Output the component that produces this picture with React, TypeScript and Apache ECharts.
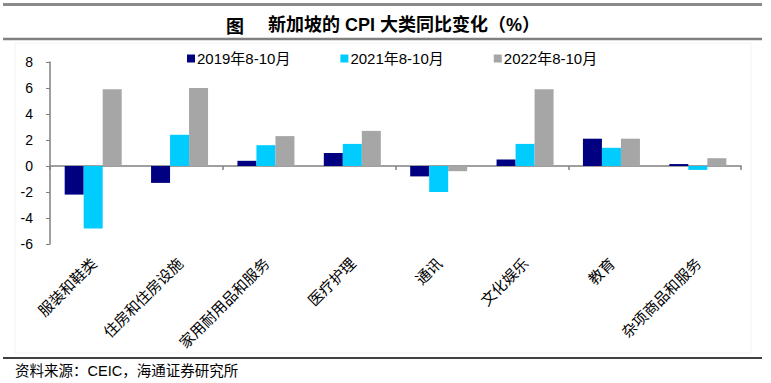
import React, { useEffect, useRef } from "react";
import * as echarts from "echarts";

const categories = [
  "服装和鞋类",
  "住房和住房设施",
  "家用耐用品和服务",
  "医疗护理",
  "通讯",
  "文化娱乐",
  "教育",
  "杂项商品和服务",
];
const seriesNames = ["2019年8-10月", "2021年8-10月", "2022年8-10月"];
const values2019 = [-2.2, -1.3, 0.4, 1.0, -0.8, 0.5, 2.1, 0.15];
const values2021 = [-4.8, 2.4, 1.6, 1.7, -2.0, 1.7, 1.4, -0.3];
const values2022 = [5.9, 6.0, 2.3, 2.7, -0.4, 5.9, 2.1, 0.6];
const colors = ["#000080", "#00CCFF", "#A6A6A6"];
const titleText = "新加坡的 CPI 大类同比变化（%）";
const sourceText = "资料来源：CEIC，海通证券研究所";

const FONT = "Liberation Sans, Arial, 'Noto Sans CJK SC', sans-serif";

export default function App() {
  const ref = useRef<HTMLDivElement>(null);
  useEffect(() => {
    if (!ref.current) return;
    const chart = echarts.init(ref.current, undefined, { renderer: "svg" });
    const seriesData = [values2019, values2021, values2022];
    chart.setOption({
      animation: false,
      backgroundColor: "#ffffff",
      textStyle: { fontFamily: FONT },
      legend: {
        left: 182,
        top: 46,
        itemWidth: 8,
        itemHeight: 8,
        itemGap: 50,
        icon: "rect",
        textStyle: { fontSize: 15, color: "#000", fontFamily: FONT, padding: [0, 0, 0, -3] },
        data: seriesNames,
      },
      grid: { left: 50, right: 30, top: 62, bottom: 139, containLabel: false },
      xAxis: [
        {
          type: "category",
          data: categories,
          axisLine: { onZero: true, lineStyle: { color: "#808080", width: 1.5 } },
          axisTick: { show: true, length: 4, lineStyle: { color: "#808080", width: 1.5 } },
          axisLabel: { show: false },
          splitLine: { show: false },
        },
        {
          type: "category",
          data: categories,
          position: "bottom",
          axisLine: { show: false, onZero: false },
          axisTick: { show: false },
          axisLabel: {
            rotate: 45,
            margin: 16,
            fontSize: 15,
            color: "#000",
            fontFamily: "'Noto Sans CJK SC', sans-serif",
            interval: 0,
          },
          splitLine: { show: false },
        },
      ],
      yAxis: {
        type: "value",
        min: -6,
        max: 8,
        interval: 2,
        axisLine: { show: true, lineStyle: { color: "#808080", width: 1.5 } },
        axisTick: { show: true, length: 4, lineStyle: { color: "#808080" } },
        axisLabel: { fontSize: 14, color: "#000", margin: 17, fontFamily: FONT },
        splitLine: { show: false },
      },
      series: seriesNames.map((name, i) => ({
        name,
        type: "bar",
        xAxisIndex: 0,
        data: seriesData[i],
        barGap: "0%",
        barCategoryGap: "34%",
        itemStyle: { color: colors[i] },
      })),
      graphic: [
        {
          type: "rect",
          shape: { x: 15, y: 43, width: 736, height: 310 },
          style: { fill: "none", stroke: "#f3f3f3", lineWidth: 1 },
          silent: true,
        },
        {
          type: "line",
          shape: { x1: 3, y1: 4.5, x2: 762, y2: 4.5 },
          style: { stroke: "#8a8a8a", lineWidth: 3 },
        },
        {
          type: "line",
          shape: { x1: 3, y1: 39, x2: 762, y2: 39 },
          style: { stroke: "#808080", lineWidth: 2.5 },
        },
        {
          type: "text",
          x: 226,
          y: 25,
          style: {
            text: "图",
            fontSize: 18,
            fontWeight: "bold",
            fill: "#000",
            fontFamily: "'Noto Sans CJK SC', sans-serif",
            verticalAlign: "middle",
          },
        },
        {
          type: "text",
          x: 268,
          y: 25,
          style: {
            text: titleText,
            fontSize: 18,
            fontWeight: "bold",
            fill: "#000",
            fontFamily: FONT,
            verticalAlign: "middle",
          },
        },
        {
          type: "line",
          shape: { x1: 3, y1: 358, x2: 762, y2: 358 },
          style: { stroke: "#000", lineWidth: 1.5 },
        },
        {
          type: "text",
          x: 15,
          y: 371,
          style: {
            text: sourceText,
            fontSize: 14.5,
            fill: "#000",
            fontFamily: FONT,
            verticalAlign: "middle",
          },
        },
      ],
    });
    return () => chart.dispose();
  }, []);
  return (
    <div
      ref={ref}
      style={{ position: "absolute", left: 0, top: 0, width: 771, height: 383 }}
    />
  );
}
